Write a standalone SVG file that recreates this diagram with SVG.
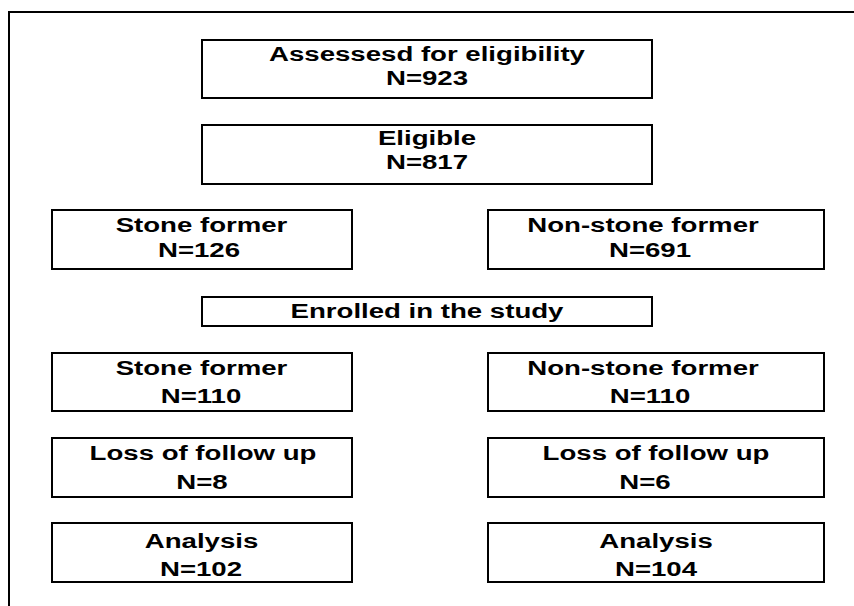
<svg xmlns="http://www.w3.org/2000/svg" width="854" height="606" viewBox="0 0 854 606">
<style>
.box{fill:#fff;stroke:#000;stroke-width:2}
.frame{stroke:#000;stroke-width:2;fill:none}
text{font-family:"Liberation Sans",Arial,sans-serif;font-weight:bold;font-size:20px;text-anchor:middle;fill:#000}
</style>
<rect width="854" height="606" fill="#fff"/>
<g id="frame">
<path class="frame" d="M9 606 V12 H854"/>
</g>
<g id="connectors"></g>
<g id="assessed">
<rect class="box" x="202" y="40" width="450" height="58"/>
<text transform="translate(427,61) scale(1.38,1)">Assessesd for eligibility</text>
<text transform="translate(427,85) scale(1.38,1)">N=923</text>
</g>
<g id="eligible">
<rect class="box" x="202" y="125" width="450" height="59"/>
<text transform="translate(427,145) scale(1.38,1)">Eligible</text>
<text transform="translate(427,169) scale(1.38,1)">N=817</text>
</g>
<g id="stone1">
<rect class="box" x="52" y="210" width="300" height="59"/>
<text transform="translate(201.5,232) scale(1.38,1)">Stone former</text>
<text transform="translate(199,257) scale(1.38,1)">N=126</text>
</g>
<g id="nonstone1">
<rect class="box" x="488" y="210" width="336" height="59"/>
<text transform="translate(643,232) scale(1.38,1)">Non-stone former</text>
<text transform="translate(650,257) scale(1.38,1)">N=691</text>
</g>
<g id="enrolled">
<rect class="box" x="202" y="297" width="450" height="29"/>
<text transform="translate(427,318) scale(1.38,1)">Enrolled in the study</text>
</g>
<g id="stone2">
<rect class="box" x="52" y="353" width="300" height="58"/>
<text transform="translate(201.5,375) scale(1.38,1)">Stone former</text>
<text transform="translate(201,403) scale(1.38,1)">N=110</text>
</g>
<g id="nonstone2">
<rect class="box" x="488" y="353" width="336" height="58"/>
<text transform="translate(643,375) scale(1.38,1)">Non-stone former</text>
<text transform="translate(650,403) scale(1.38,1)">N=110</text>
</g>
<g id="loss1">
<rect class="box" x="52" y="438" width="300" height="59"/>
<text transform="translate(203,460) scale(1.38,1)">Loss of follow up</text>
<text transform="translate(202,489) scale(1.38,1)">N=8</text>
</g>
<g id="loss2">
<rect class="box" x="488" y="438" width="336" height="59"/>
<text transform="translate(656,460) scale(1.38,1)">Loss of follow up</text>
<text transform="translate(645,489) scale(1.38,1)">N=6</text>
</g>
<g id="analysis1">
<rect class="box" x="52" y="523" width="300" height="59"/>
<text transform="translate(201.5,548) scale(1.38,1)">Analysis</text>
<text transform="translate(201,576) scale(1.38,1)">N=102</text>
</g>
<g id="analysis2">
<rect class="box" x="488" y="523" width="336" height="59"/>
<text transform="translate(656,548) scale(1.38,1)">Analysis</text>
<text transform="translate(656,576) scale(1.38,1)">N=104</text>
</g>
</svg>
